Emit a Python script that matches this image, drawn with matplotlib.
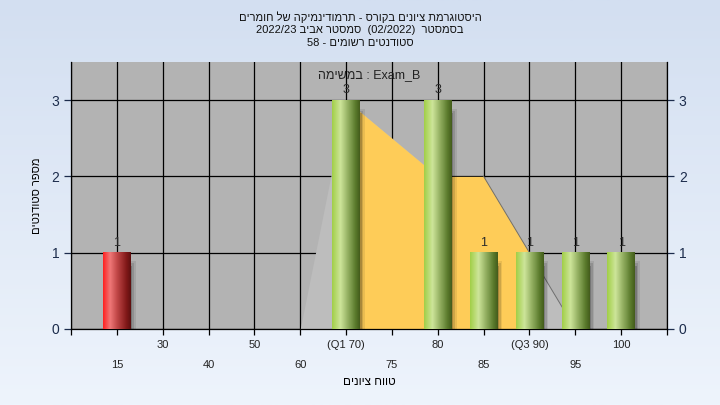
import re
import numpy as np
import matplotlib
matplotlib.use("Agg")
import matplotlib.pyplot as plt
from matplotlib.colors import LinearSegmentedColormap

plt.rcParams['font.family'] = ['Liberation Sans', 'DejaVu Sans']

# Data
categories = ['15', '30', '40', '50', '60', '(Q1 70)', '75', '80', '85', '(Q3 90)', '95', '100']
counts = [1, 0, 0, 0, 0, 3, 0, 3, 1, 1, 1, 1]
failing = [True] + [False] * 11

# range area (60 .. 95) and inter-quartile area (70 .. 90)
range_cats = ['60', '(Q1 70)', '75', '80', '85', '(Q3 90)', '95']
range_vals = [0, 3, 2.5, 2, 2, 1, 0]
iqr_cats = ['(Q1 70)', '75', '80', '85', '(Q3 90)']
iqr_vals = [3, 2.5, 2, 2, 1]

title_lines = ['היסטוגרמת ציונים בקורס - תרמודינמיקה של חומרים',
               'בסמסטר  (02/2022)  סמסטר אביב 2022/23',
               'סטודנטים רשומים - 58']
task_word = 'במשימה'
task_name = 'Exam_B'
xlabel = 'טווח ציונים'
ylabel = 'מספר סטודנטים'


def rtl(s):
    # matplotlib has no bidi support: flip the string, then flip back LTR runs
    s = s[::-1]
    return re.sub(r'[0-9A-Za-z_/().]+', lambda m: m.group(0)[::-1], s)


fig = plt.figure(figsize=(7.2, 4.05), dpi=100)

# light blue gradient background
bg = fig.add_axes([0, 0, 1, 1])
bg_cmap = LinearSegmentedColormap.from_list('bg', ['#eef4fc', '#d3dff1'])
bg.imshow(np.linspace(0, 1, 256).reshape(-1, 1)[::-1], aspect='auto', cmap=bg_cmap,
          extent=(0, 1, 0, 1))
bg.axis('off')

ax = fig.add_axes([0.0986, 0.1877, 0.8278, 0.6593])
ax.set_facecolor('#b3b3b3')

pos = {c: i + 1 for i, c in enumerate(categories)}
x = np.array([pos[c] for c in categories])

# areas
rx = [pos[c] for c in range_cats]
ix = [pos[c] for c in iqr_cats]
ax.fill_between(rx, 0, range_vals, color='#bdbdbd', lw=0, zorder=1)
ax.fill_between(ix, 0, iqr_vals, color='#fecc58', lw=0, zorder=1.5)
ax.plot(rx[-3:], range_vals[-3:], color='#6e6e6e', lw=0.7, zorder=1.6)

# bars with cylinder shading
green = LinearSegmentedColormap.from_list('g', [(0, '#a2cf48'), (0.3, '#cde59a'), (0.55, '#98b466'),
                                               (0.85, '#5a7a2c'), (1, '#445c1c')])
red = LinearSegmentedColormap.from_list('r', [(0, '#ff2222'), (0.25, '#f07878'), (0.5, '#c24848'),
                                             (0.85, '#801818'), (1, '#5e1010')])
bars = ax.bar(x, counts, width=0.6, color='none', zorder=3)
grad = np.linspace(0, 1, 64).reshape(1, -1)
for b, bad in zip(bars, failing):
    h = b.get_height()
    if h <= 0:
        continue
    x0, w = b.get_x(), b.get_width()
    for k, a in enumerate([0.08, 0.12, 0.18]):
        ax.add_patch(plt.Rectangle((x0 + 0.04 + 0.035 * (2 - k), -0.08),
                                   w, h - 0.03 - 0.03 * k, color='black', alpha=a,
                                   lw=0, zorder=2))
    ax.imshow(grad, aspect='auto', cmap=red if bad else green,
              extent=(x0, x0 + w, 0, h), zorder=3)
    ax.annotate(str(int(h)), (b.get_x() + w / 2, h), xytext=(0, 3),
                textcoords='offset points', ha='center', va='bottom',
                fontsize=9, color='#2a2a2a', zorder=4)

ax.set_xlim(0, len(categories) + 1)
ax.set_ylim(0, 3.5)

# grid and axes
ax.set_axisbelow(True)
ax.grid(color='black', lw=0.9)
ax.set_xticks(np.arange(0, len(categories) + 2))
ax.set_xticklabels([''] + categories + [''], fontsize=8, color='#222222')
for i, t in enumerate(ax.xaxis.get_major_ticks()):
    t.set_pad(18 if i % 2 == 1 else 4)
ax.set_yticks([0, 1, 2, 3])
ax.tick_params(axis='x', length=4, width=0.9)
ax.tick_params(axis='y', left=True, right=True, labelleft=True, labelright=True,
               length=5, width=0.9, labelsize=10, colors='#1c2c4c')
for s in ['left', 'right', 'bottom']:
    ax.spines[s].set_linewidth(0.9)
ax.spines['top'].set_visible(False)

ax.text(0.5, 0.951, rtl(task_word) + ' : ' + task_name, transform=ax.transAxes,
        ha='center', va='center', fontsize=9, color='#222222', zorder=5)

ax.set_xlabel(rtl(xlabel), fontsize=8.5, labelpad=5)
ax.set_ylabel(rtl(ylabel), fontsize=8, labelpad=7)

for k, line in enumerate(title_lines):
    fig.text(0.5, 1 - (17 + 13 * k) / 405, rtl(line), ha='center', va='center',
             fontsize=8, color='#111111')

fig.savefig('out.png', dpi=100)
